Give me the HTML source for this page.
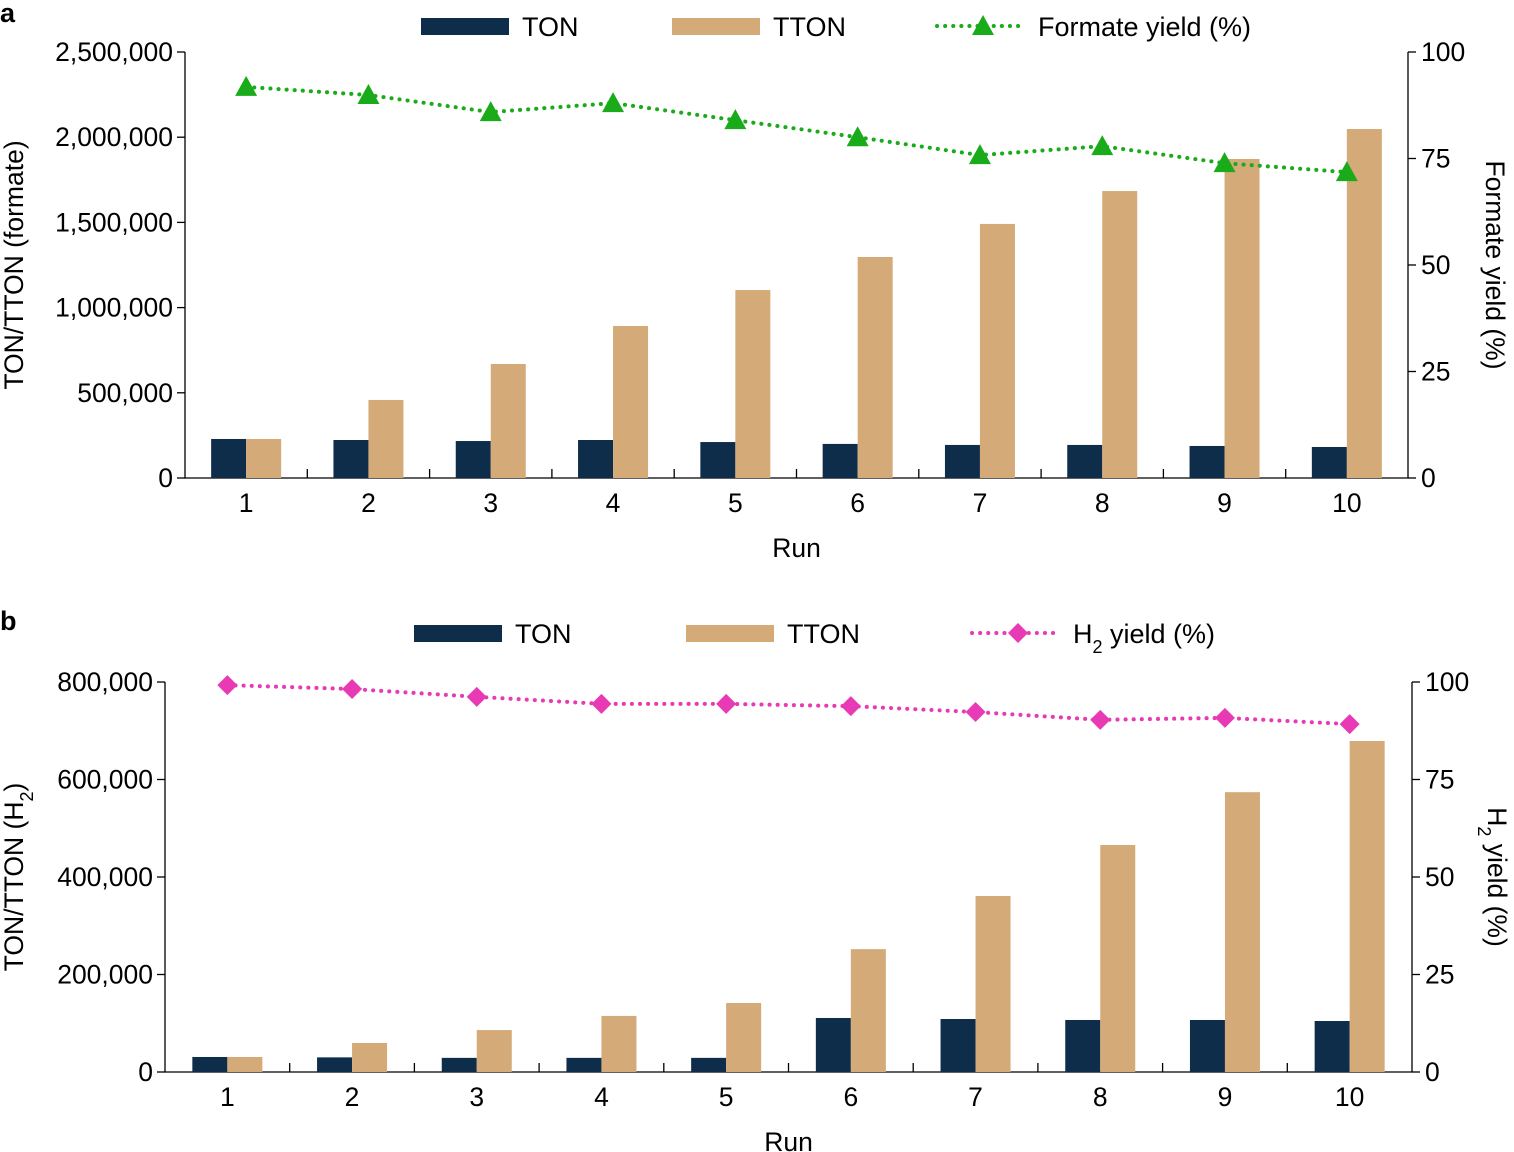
<!DOCTYPE html>
<html><head><meta charset="utf-8"><style>
html,body{margin:0;padding:0;background:#fff;}
svg{display:block;font-family:"Liberation Sans",Arial,sans-serif;}
</style></head><body>
<svg id="chart" width="1514" height="1152" viewBox="0 0 1514 1152" xmlns="http://www.w3.org/2000/svg"></svg>
<script>
const runs = ["1","2","3","4","5","6","7","8","9","10"];
const tonA = [229000,223000,217000,223000,211000,200000,194000,194000,188000,182000];
const ttonA = [229000,458000,669000,892000,1103000,1297000,1491000,1684000,1872000,2048000];
const formateYield = [91.8,89.9,85.9,88.0,84.0,80.0,75.8,77.9,73.9,71.8];
const leftTicksA = [0,500000,1000000,1500000,2000000,2500000];
const tonB = [30800,30000,29000,29000,29000,110800,108700,106700,106700,104600];
const ttonB = [30800,59500,86000,115000,141500,252000,361000,465600,574000,679000];
const h2Yield = [99.2,98.2,96.2,94.4,94.4,93.8,92.3,90.3,90.8,89.2];
const leftTicksB = [0,200000,400000,600000,800000];
const rightTicks = [0,25,50,75,100];

const NS="http://www.w3.org/2000/svg";
const svg=document.getElementById('chart');
function mk(tag,attrs,parent,text){const e=document.createElementNS(NS,tag);for(const k in attrs)e.setAttribute(k,attrs[k]);if(text!==undefined)e.textContent=text;(parent||svg).appendChild(e);return e;}
const fmt=v=>v.toLocaleString('en-US');
const FS=26.5;

function panel(cfg){
  const g=mk('g',{});
  
  
  const {x0,x1,y0,y1,lmax,ton,tton,yld,lticks,color,marker}=cfg;
  const band=(x1-x0)/runs.length;
  const xc=i=>x0+(i+0.5)*band;
  const yl=v=>y0-(v/lmax)*(y0-y1);
  const yr=v=>y0-(v/100)*(y0-y1);
  const ax=mk('path',{d:`M${x0},${y1}V${y0}H${x1}V${y1}`,fill:'none',stroke:'#000','stroke-width':1.3},g);
  
  lticks.forEach(t=>{
    mk('line',{x1:x0-8,x2:x0,y1:yl(t),y2:yl(t),stroke:'#000','stroke-width':1.3},g);
    const tx=mk('text',{x:x0-12,y:yl(t)+9,'text-anchor':'end','font-size':FS},g,fmt(t));
    
  });
  rightTicks.forEach(t=>{
    mk('line',{x1:x1,x2:x1+8,y1:yr(t),y2:yr(t),stroke:'#000','stroke-width':1.3},g);
    const tx=mk('text',{x:x1+13,y:yr(t)+9,'font-size':FS},g,String(t));
    
  });
  for(let i=1;i<runs.length;i++){mk('line',{x1:x0+i*band,x2:x0+i*band,y1:y0,y2:y0-9,stroke:'#000','stroke-width':1.3},g);}
  runs.forEach((r,i)=>{
    const tx=mk('text',{x:xc(i),y:y0+34,'text-anchor':'middle','font-size':FS},g,r);
    
    const b1=mk('rect',{x:xc(i)-35,y:yl(ton[i]),width:35,height:y0-yl(ton[i]),fill:'#0e2d4a'},g);
    
    const b2=mk('rect',{x:xc(i),y:yl(tton[i]),width:35,height:y0-yl(tton[i]),fill:'#d4aa78'},g);
    
  });
  const pts=yld.map((v,i)=>xc(i)+','+yr(v)).join(' ');
  const ln=mk('polyline',{points:pts,fill:'none',stroke:color,'stroke-width':4,'stroke-dasharray':'0.1 8','stroke-linecap':'round'},g);
  
  yld.forEach((v,i)=>{
    const m=drawMarker(marker,xc(i),yr(v),color,g);
    
  });
  const xt=mk('text',{x:(x0+x1)/2,y:y0+79,'text-anchor':'middle','font-size':FS},g,'Run');
  
}
function drawMarker(type,x,y,color,g){
  if(type==='tri') return mk('path',{d:`M${x},${y-11}L${x+11},${y+9}L${x-11},${y+9}Z`,fill:color},g);
  return mk('path',{d:`M${x},${y-10}L${x+10},${y}L${x},${y+10}L${x-10},${y}Z`,fill:color},g);
}
function legend(y,items,color,marker){
  items.forEach(it=>{
    let el;
    if(it.type==='bar'){el=mk('rect',{x:it.x,y:y-8,width:88,height:17,fill:it.fill});}
    else{el=mk('line',{x1:it.x,x2:it.x+88,y1:y,y2:y,stroke:color,'stroke-width':4,'stroke-dasharray':'0.1 8','stroke-linecap':'round'});
      const m=drawMarker(marker,it.x+46,y,color,svg);}
    
    const t=mk('text',{x:it.x+101,y:y+10,'font-size':27});
    t.innerHTML=it.label;
    
  });
}
panel({name:'panel-a',x0:185,x1:1408,y0:478,y1:52,lmax:2500000,ton:tonA,tton:ttonA,yld:formateYield,lticks:leftTicksA,color:'#1aab1a',marker:'tri'});
panel({name:'panel-b',x0:165,x1:1412,y0:1072,y1:682,lmax:800000,ton:tonB,tton:ttonB,yld:h2Yield,lticks:leftTicksB,color:'#e83ab5',marker:'dia'});
legend(26,[{type:'bar',x:421,fill:'#0e2d4a',label:'TON'},{type:'bar',x:672,fill:'#d4aa78',label:'TTON'},{type:'line',x:937,label:'Formate yield (%)'}],'#1aab1a','tri');
legend(633,[{type:'bar',x:414,fill:'#0e2d4a',label:'TON'},{type:'bar',x:686,fill:'#d4aa78',label:'TTON'},{type:'line',x:972,label:'H<tspan baseline-shift="sub" font-size="18">2</tspan> yield (%)'}],'#e83ab5','dia');
function txt(name,attrs,html){const t=mk('text',attrs);t.innerHTML=html;}
txt('panel-a-label',{x:0,y:22,'font-size':27,'font-weight':'bold'},'a');
txt('panel-b-label',{x:0,y:630,'font-size':27,'font-weight':'bold'},'b');
txt('left-axis-title-a',{transform:'translate(23,265) rotate(-90)','text-anchor':'middle','font-size':26.5},'TON/TTON (formate)');
txt('right-axis-title-a',{transform:'translate(1486,265) rotate(90)','text-anchor':'middle','font-size':26.5},'Formate yield (%)');
txt('left-axis-title-b',{transform:'translate(23,877) rotate(-90)','text-anchor':'middle','font-size':26.5},'TON/TTON (H<tspan baseline-shift="sub" font-size="18">2</tspan>)');
txt('right-axis-title-b',{transform:'translate(1488,877) rotate(90)','text-anchor':'middle','font-size':26.5},'H<tspan baseline-shift="sub" font-size="18">2</tspan> yield (%)');
</script>
</body></html>
